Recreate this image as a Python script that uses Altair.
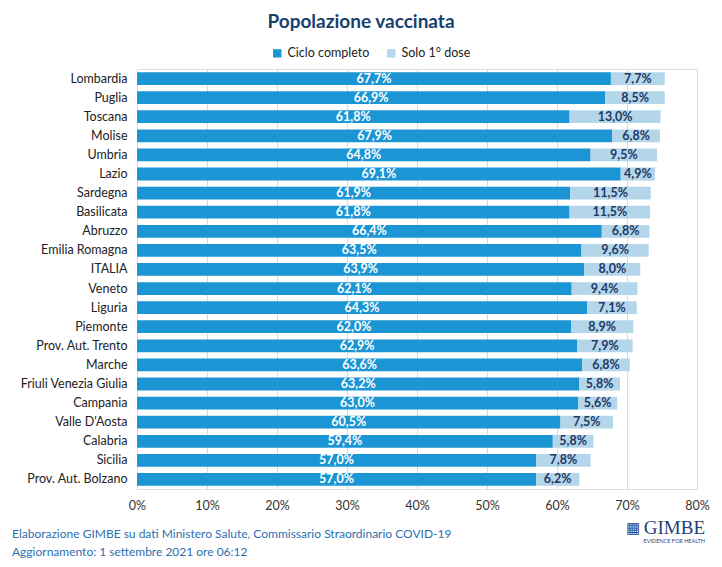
import altair as alt
import pandas as pd

regions = ["Lombardia", "Puglia", "Toscana", "Molise", "Umbria", "Lazio", "Sardegna",
           "Basilicata", "Abruzzo", "Emilia Romagna", "ITALIA", "Veneto", "Liguria",
           "Piemonte", "Prov. Aut. Trento", "Marche", "Friuli Venezia Giulia", "Campania",
           "Valle D'Aosta", "Calabria", "Sicilia", "Prov. Aut. Bolzano"]
ciclo = [67.7, 66.9, 61.8, 67.9, 64.8, 69.1, 61.9, 61.8, 66.4, 63.5, 63.9, 62.1, 64.3,
         62.0, 62.9, 63.6, 63.2, 63.0, 60.5, 59.4, 57.0, 57.0]
solo = [7.7, 8.5, 13.0, 6.8, 9.5, 4.9, 11.5, 11.5, 6.8, 9.6, 8.0, 9.4, 7.1,
        8.9, 7.9, 6.8, 5.8, 5.6, 7.5, 5.8, 7.8, 6.2]
series = ["Ciclo completo", "Solo 1° dose"]
ticks = [0, 10, 20, 30, 40, 50, 60, 70, 80]

df = pd.DataFrame({"region": regions, "Ciclo completo": ciclo, "Solo 1° dose": solo})

DARK = "#1b95d3"
LIGHT = "#b4d6eb"
NAVY = "#1f3864"
FONT = "Lato"

base = alt.Chart(df)
yenc = alt.Y("region:N", sort=regions, title=None,
             scale=alt.Scale(paddingInner=0.33, paddingOuter=0.165),
             axis=alt.Axis(labelFontSize=12.5, labelColor="#222222", labelFont=FONT,
                           ticks=False, domain=False, labelPadding=10, labelLimit=200))

bars = base.transform_fold(series, as_=["serie", "val"]).transform_calculate(
    ord="datum.serie == 'Ciclo completo' ? 0 : 1"
).mark_bar().encode(
    y=yenc,
    x=alt.X("val:Q", stack="zero", title=None,
            scale=alt.Scale(domain=[0, 80], nice=False),
            axis=alt.Axis(values=ticks, labelExpr="datum.value + '%'", grid=True,
                          gridColor="#d9d9d9", domain=False, ticks=False,
                          labelFontSize=12.5, labelColor="#333333", labelFont=FONT,
                          labelPadding=10, labelFlush=False)),
    color=alt.Color("serie:N", scale=alt.Scale(domain=series, range=[DARK, LIGHT]),
                    legend=alt.Legend(title=None, orient="none", legendX=134, legendY=-22,
                                      direction="horizontal", symbolType="square",
                                      symbolSize=70, symbolStrokeWidth=0,
                                      labelFontSize=12.5, labelFont=FONT,
                                      labelColor="#222222", columnPadding=15)),
    order=alt.Order("ord:Q"),
)

lab1 = base.transform_calculate(
    xm="datum['Ciclo completo'] / 2",
    t="replace(format(datum['Ciclo completo'], '.1f'), '.', ',') + '%'"
).mark_text(color="white", fontWeight="bold", fontSize=12.5, font=FONT).encode(
    y=alt.Y("region:N", sort=regions), x=alt.X("xm:Q"), text="t:N")

lab2 = base.transform_calculate(
    xm="datum['Ciclo completo'] + datum['Solo 1° dose'] / 2",
    t="replace(format(datum['Solo 1° dose'], '.1f'), '.', ',') + '%'"
).mark_text(color=NAVY, fontWeight="bold", fontSize=12.5, font=FONT).encode(
    y=alt.Y("region:N", sort=regions), x=alt.X("xm:Q"), text="t:N")

title = alt.Chart(pd.DataFrame({"t": ["Popolazione vaccinata"]})).mark_text(
    fontSize=19, fontWeight="bold", color="#17406d", font=FONT
).encode(x=alt.value(224), y=alt.value(-47), text="t:N")

foot = alt.Chart(pd.DataFrame({
    "t": ["Elaborazione GIMBE su dati Ministero Salute, Commissario Straordinario  COVID-19",
          "Aggiornamento:  1 settembre  2021 ore 06:12"],
    "yy": [465, 483]})).mark_text(
    fontSize=12, color="#2e6fb0", font=FONT, align="left"
).encode(x=alt.value(-125), y=alt.Y("yy:Q", scale=None), text="t:N")

logo = alt.Chart(pd.DataFrame({"t": ["GIMBE"]})).mark_text(
    fontSize=19, color="#1f3f7a", font="Liberation Serif", align="right"
).encode(x=alt.value(568), y=alt.value(459), text="t:N")
logo2 = alt.Chart(pd.DataFrame({"t": ["EVIDENCE FOR HEALTH"]})).mark_text(
    fontSize=5.5, color="#1f3f7a", font=FONT, align="right"
).encode(x=alt.value(568), y=alt.value(472), text="t:N")
icon = alt.Chart(pd.DataFrame({"t": ["▦"]})).mark_text(
    fontSize=15, color="#1f3f7a", align="right"
).encode(x=alt.value(503), y=alt.value(459), text="t:N")

chart = alt.layer(bars, lab1, lab2, title, foot, logo, logo2, icon).properties(
    width=560, height=420,
    autosize=alt.AutoSizeParams(type="none"),
    padding={"left": 129, "top": 61, "right": 17, "bottom": 70},
).configure_view(stroke=None).configure(background="white")

chart.save("out.html", embed_options={"renderer": "svg", "actions": False})
